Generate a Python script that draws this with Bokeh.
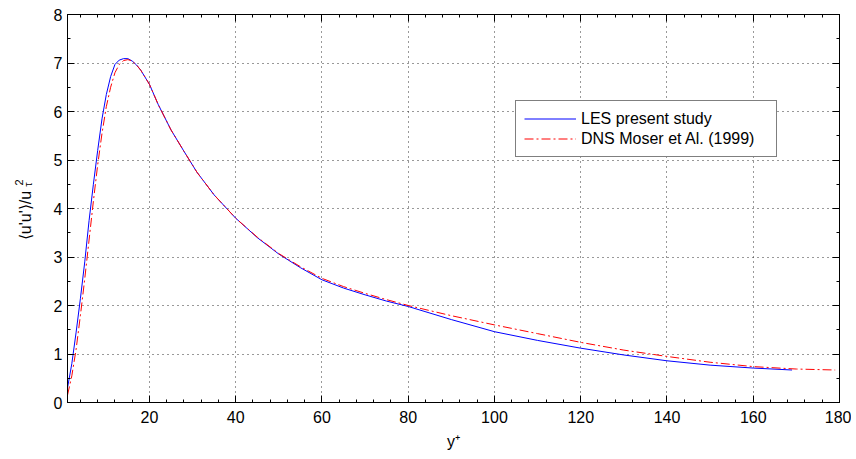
import numpy as np
from bokeh.plotting import figure
from bokeh.models import (Range1d, LinearAxis, Legend, LegendItem, Label,
                          SingleIntervalTicker, CustomJSTickFormatter)
from bokeh.embed import file_html
from bokeh.resources import INLINE

# ---- data ----
les_yplus = [1, 2, 3, 4, 5, 6, 7, 8, 9, 10, 11, 12, 13, 14, 15, 16, 17, 18, 20, 22, 25,
             28, 31, 35, 40, 45, 50, 55, 60, 65, 70, 75, 80, 90, 100, 110, 120, 130,
             140, 150, 160, 169]
les_uu = [0.30, 0.80, 1.45, 2.15, 2.90, 3.75, 4.50, 5.20, 5.85, 6.35, 6.72, 6.97, 7.06,
          7.09, 7.09, 7.04, 6.96, 6.85, 6.56, 6.15, 5.62, 5.18, 4.75, 4.28, 3.80, 3.40,
          3.06, 2.78, 2.53, 2.36, 2.22, 2.09, 1.98, 1.71, 1.46, 1.28, 1.12, 0.98, 0.86,
          0.77, 0.71, 0.67]

dns_yplus = [1, 2, 3, 4, 5, 6, 7, 8, 9, 10, 11, 12, 13, 14, 15, 16, 17, 18, 20, 22, 25,
             28, 31, 35, 40, 45, 50, 55, 60, 65, 70, 75, 80, 90, 100, 110, 120, 130,
             140, 150, 160, 170, 179]
dns_uu = [0.15, 0.55, 1.10, 1.80, 2.55, 3.35, 4.15, 4.90, 5.55, 6.10, 6.50, 6.80, 6.97,
          7.05, 7.07, 7.04, 6.96, 6.85, 6.56, 6.15, 5.62, 5.18, 4.75, 4.28, 3.80, 3.41,
          3.07, 2.80, 2.56, 2.39, 2.25, 2.12, 2.00, 1.79, 1.60, 1.42, 1.24, 1.08, 0.95,
          0.83, 0.74, 0.69, 0.67]

series_names = ["LES present study", "DNS Moser et Al. (1999)"]
x_label = "y\u207a"
y_label_main = "\u27e8u'u'\u27e9/u"
y_label_sup = "2"
y_label_sub = "\u03c4"

FONT = "Liberation Sans"

p = figure(frame_width=772, frame_height=388, output_backend="svg", toolbar_location=None,
           x_range=Range1d(1, 180), y_range=Range1d(0, 8),
           min_border_left=67, min_border_right=12, min_border_top=14,
           min_border_bottom=53, background_fill_color="white",
           border_fill_color="white")
p.outline_line_color = "black"
p.outline_line_width = 1

xt = SingleIntervalTicker(interval=20, num_minor_ticks=5)
yt = SingleIntervalTicker(interval=1, num_minor_ticks=2)

def style_axis(ax, ticker):
    ax.ticker = ticker
    ax.axis_line_color = "black"
    ax.major_tick_line_color = "black"
    ax.minor_tick_line_color = "black"
    ax.major_tick_in = 7
    ax.major_tick_out = 0
    ax.minor_tick_in = 3
    ax.minor_tick_out = 0
    ax.major_label_text_font = FONT
    ax.major_label_text_font_size = "16px"
    ax.major_label_text_color = "black"

xa = p.below[0]
ya = p.left[0]
style_axis(xa, xt)
style_axis(ya, yt)
xa.major_label_standoff = 8
ya.major_label_standoff = 5
xa.axis_label = x_label
xa.axis_label_text_font = FONT
xa.axis_label_text_font_size = "16px"
xa.axis_label_text_font_style = "normal"
xa.axis_label_text_color = "black"
xa.axis_label_standoff = 7

blank = CustomJSTickFormatter(code="return '';")
top = LinearAxis(formatter=blank)
right = LinearAxis(formatter=blank)
style_axis(top, SingleIntervalTicker(interval=20, num_minor_ticks=5))
style_axis(right, SingleIntervalTicker(interval=1, num_minor_ticks=2))
for ax in (top, right):
    ax.major_label_text_font_size = "0px"
    ax.major_label_standoff = 0
p.add_layout(top, "above")
p.add_layout(right, "right")

for g in (p.xgrid[0], p.ygrid[0]):
    g.grid_line_color = "#333333"
    g.grid_line_dash = "1 4"
    g.grid_line_width = 1

r1 = p.line(les_yplus, les_uu, line_color="#0000ff", line_width=1)
r2 = p.line(dns_yplus, dns_uu, line_color="#ff0000", line_width=1,
            line_dash="9 3 2 3")

legend = Legend(items=[LegendItem(label=series_names[0], renderers=[r1]),
                       LegendItem(label=series_names[1], renderers=[r2])],
                location=(448, 245), margin=0, padding=8, spacing=1,
                glyph_width=52, glyph_height=19, label_height=19, label_width=187,
                label_standoff=5, label_text_font=FONT, label_text_font_size="16px",
                label_text_color="black", border_line_color="black",
                border_line_width=1, background_fill_color="white",
                background_fill_alpha=1)
p.add_layout(legend)

# y-axis label pieces (canvas units), placed in the left side panel
for txt, cx, cy, fs in ((y_label_main, 25, 215, "16px"),
                        (y_label_sup, 18, 182, "11px"),
                        (y_label_sub, 27.5, 184, "11px")):
    p.add_layout(Label(x=cx, y=cy, x_units="canvas", y_units="canvas",
                       text=txt, angle=np.pi / 2, text_align="center",
                       text_baseline="alphabetic", text_font=FONT,
                       text_font_size=fs, text_color="black", level="overlay"),
                 "left")

open("out.html", "w").write(file_html(p, INLINE))
